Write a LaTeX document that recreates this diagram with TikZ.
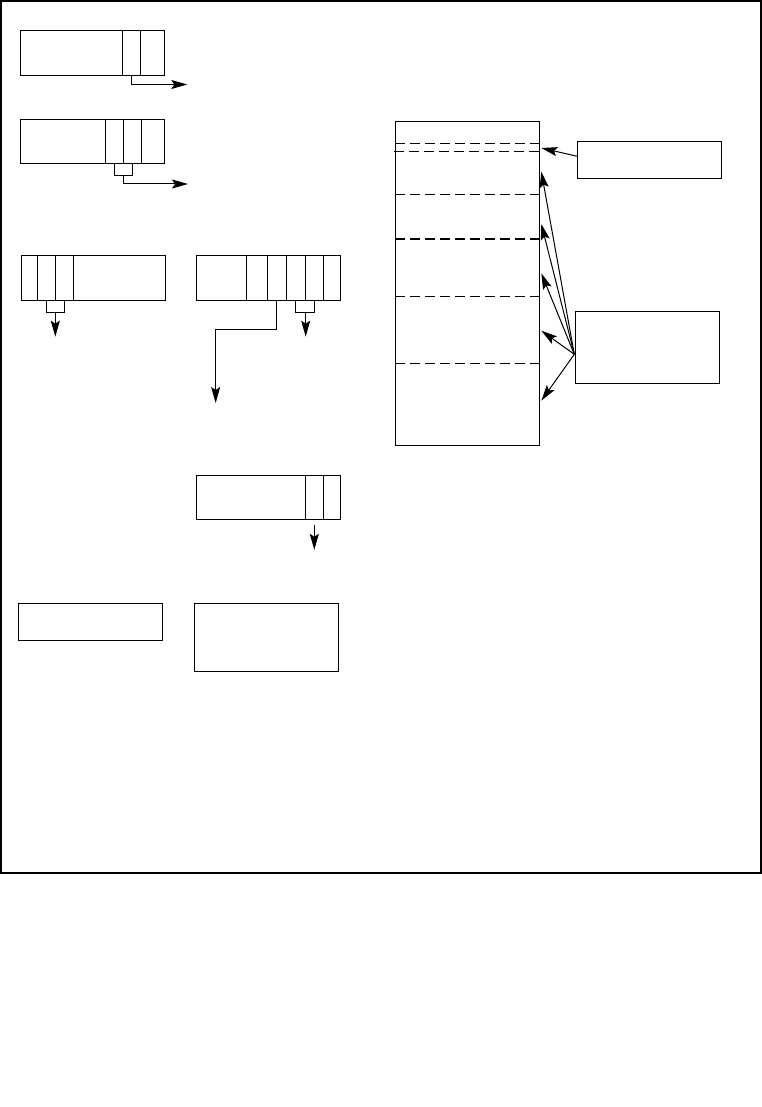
\documentclass[tikz,border=0pt]{standalone}
\usetikzlibrary{positioning, arrows.meta}

\begin{document}
\begin{tikzpicture}[
  x=1pt, y=-1pt,
  line width=1pt,
  regcell/.style={rectangle, draw=black, minimum height=44.5pt,
                  inner sep=0pt, outer sep=0pt, anchor=north west},
  plainbox/.style={rectangle, draw=black, inner sep=0pt, outer sep=0pt,
                   anchor=north west},
  regarrow/.style={-{Stealth[length=16pt, width=9pt, inset=3pt]}},
  memline/.style={dash pattern=on 9.5pt off 5.5pt}
]
\useasboundingbox (0,0) rectangle (762,1107);
\draw[line width=2pt] (1,1) rectangle (761,873);

% -------- REGISTRADOR A --------
\node[regcell, minimum width=102.3pt] (a0) at (20,31) {};
\node[regcell, minimum width=18pt, right=0pt of a0] (a1) {};
\node[regcell, minimum width=23.7pt, right=0pt of a1] (a2) {};
\draw[regarrow] (a1.south) -- ++(0,9) -- ++(56,0);

% -------- REGISTRADOR B --------
\node[regcell, minimum width=85.3pt] (b0) at (20,119.5) {};
\node[regcell, minimum width=18pt, right=0pt of b0] (b1) {};
\node[regcell, minimum width=18pt, right=0pt of b1] (b2) {};
\node[regcell, minimum width=22.7pt, right=0pt of b2] (b3) {};
\draw (b1.south) -- ++(0,12) -| (b2.south);
\draw[regarrow] ([yshift=-12pt]b1.south east) -- ++(0,8) -- ++(64.7,0);

% -------- REGISTRADOR C --------
\node[regcell, minimum width=16pt] (c1) at (21,255.5) {};
\node[regcell, minimum width=18.3pt, right=0pt of c1] (c2) {};
\node[regcell, minimum width=18pt, right=0pt of c2] (c3) {};
\node[regcell, minimum width=92.4pt, right=0pt of c3] (c0) {};
\draw (c2.south) -- ++(0,12) -| (c3.south);
\draw[regarrow] ([yshift=-12pt]c2.south east) -- ++(0,24.7);

% -------- REGISTRADOR D --------
\node[regcell, minimum width=50pt] (d0) at (196.7,255.5) {};
\node[regcell, minimum width=20.6pt, right=0pt of d0] (d1) {};
\node[regcell, minimum width=18.7pt, right=0pt of d1] (d2) {};
\node[regcell, minimum width=19.7pt, right=0pt of d2] (d3) {};
\node[regcell, minimum width=18pt, right=0pt of d3] (d4) {};
\node[regcell, minimum width=17pt, right=0pt of d4] (d5) {};
\draw[regarrow] (d2.south) -- ++(0,29) -- ++(-61,0) -- ++(0,74);
\draw (d3.south) -- ++(0,12) -| (d4.south);
\draw[regarrow] ([yshift=-12pt]d3.south east) -- ++(0,24.7);

% -------- REGISTRADOR E --------
\node[regcell, minimum width=109pt] (e0) at (196.3,475.3) {};
\node[regcell, minimum width=18pt, right=0pt of e0] (e1) {};
\node[regcell, minimum width=17.4pt, right=0pt of e1] (e2) {};
\draw[regarrow] ([yshift=-5pt]e1.south) -- ++(0,25);

% -------- CAIXAS SIMPLES --------
\node[plainbox, minimum width=144.7pt, minimum height=36.6pt] (g) at (18,603.7) {};
\node[plainbox, minimum width=144.4pt, minimum height=68pt] (f) at (194.3,603.3) {};

% -------- MEMORIA --------
\node[plainbox, minimum width=144pt, minimum height=323.3pt] (mem) at (395.3,121.7) {};
\foreach \dy in {22.3,72.6,117.3,174.6,241.6}
  \draw[memline] ([yshift=-\dy pt]mem.north west) -- ([yshift=-\dy pt]mem.north east);
\draw[memline] ([xshift=-1.3pt, yshift=-29.6pt]mem.north west) -- ([yshift=-29.6pt]mem.north east);

% -------- CAIXAS DA DIREITA --------
\node[plainbox, minimum width=144pt, minimum height=37pt] (ptr) at (577.3,141.3) {};
\node[plainbox, minimum width=144pt, minimum height=72pt] (grp) at (575.3,311.3) {};

% Setas para a memoria
\draw[regarrow] ([yshift=3.5pt]ptr.west) -- ([xshift=2pt, yshift=-26.3pt]mem.north east);
\coordinate (src) at ([xshift=-1pt, yshift=-7pt]grp.west);
\foreach \dy in {50,102.3,151.6,209,279}
  \draw[regarrow] (src) -- ([xshift=2pt, yshift=-\dy pt]mem.north east);

\end{tikzpicture}
\end{document}
